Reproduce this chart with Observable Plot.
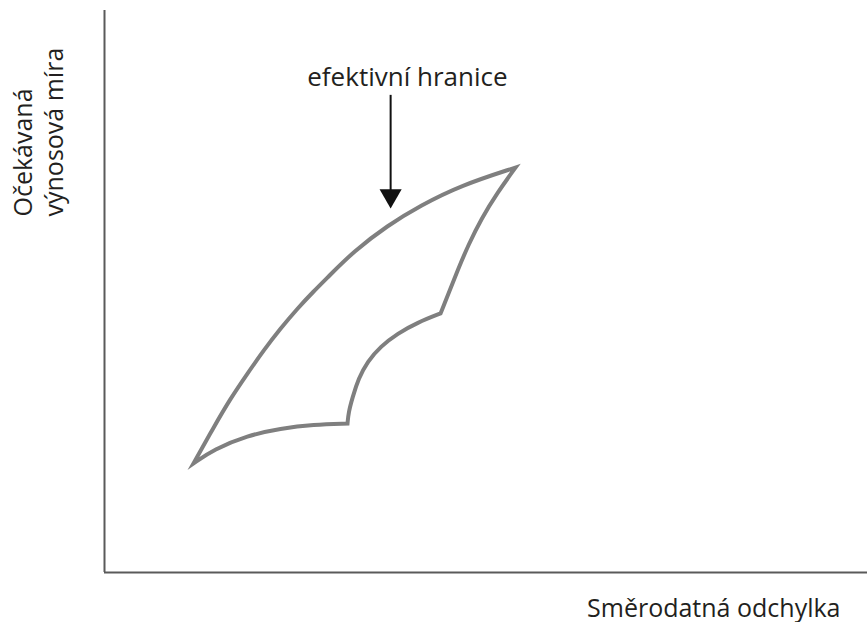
<!DOCTYPE html>
<html>
<head>
<meta charset="utf-8">
<script src="https://cdn.jsdelivr.net/npm/d3@7"></script>
<script src="https://cdn.jsdelivr.net/npm/@observablehq/plot@0.6"></script>
<style>
  html, body { margin: 0; padding: 0; background: #fff; }
  #chart svg { display: block; }
</style>
</head>
<body>
<div id="chart"></div>
<script>
// Abstract units: x = standard deviation (0–10), y = expected return (0–10)
const frontierX = [1.166, 1.429, 1.651, 1.874, 2.084, 2.307, 2.529, 2.739, 2.923, 3.263, 3.709, 4.142, 4.666, 5.387];
const frontierY = [1.940, 2.580, 3.096, 3.541, 3.950, 4.342, 4.698, 5.000, 5.249, 5.712, 6.174, 6.530, 6.886, 7.206];

const rightX = [5.387, 5.151, 4.941, 4.771, 4.627, 4.509, 4.404];
const rightY = [7.206, 6.762, 6.299, 5.836, 5.374, 4.964, 4.609];

const concaveX = [4.404, 4.102, 3.840, 3.617, 3.447, 3.329, 3.250, 3.198, 3.185];
const concaveY = [4.609, 4.448, 4.253, 4.021, 3.754, 3.452, 3.114, 2.847, 2.651];

const bottomX = [3.185, 2.739, 2.307, 1.874, 1.429, 1.166];
const bottomY = [2.651, 2.633, 2.562, 2.438, 2.189, 1.940];

const arrowX = 3.75;
const arrowTopY = 8.49;
const arrowTipY = 6.48;

const annotation = "efektivní hranice";
const yLabel = "Očekávaná\nvýnosová míra";
const xLabel = "Směrodatná odchylka";

const segments = [
  [frontierX, frontierY],
  [rightX, rightY],
  [concaveX, concaveY],
  [bottomX, bottomY]
];
const outline = segments.flatMap(([xs, ys]) => xs.map((x, i) => ({x, y: ys[i]})));

// Smooth B-spline within each segment, sharp corners where segments meet
// (a corner is where the same point appears twice in a row), closed at the end.
function cornerCurve(context) {
  let pts;
  const proxy = {
    moveTo: (x, y) => context.lineTo(x, y),
    lineTo: (x, y) => context.lineTo(x, y),
    bezierCurveTo: (...a) => context.bezierCurveTo(...a),
    closePath: () => {}
  };
  return {
    areaStart() {}, areaEnd() {},
    lineStart() { pts = []; },
    point(x, y) { pts.push([+x, +y]); },
    lineEnd() {
      const groups = [];
      let cur = [pts[0]];
      for (let i = 1; i < pts.length; i++) {
        const p = pts[i], q = pts[i - 1];
        if (Math.abs(p[0] - q[0]) < 1e-6 && Math.abs(p[1] - q[1]) < 1e-6) { groups.push(cur); cur = [p]; }
        else cur.push(p);
      }
      groups.push(cur);
      groups.forEach((g, gi) => {
        const c = d3.curveBasis(gi === 0 ? context : proxy);
        c.lineStart();
        g.forEach(([x, y]) => c.point(x, y));
        c.lineEnd();
      });
      context.closePath();
    }
  };
}

const font = "'Open Sans', 'Noto Sans', sans-serif";
const textColor = "#231f20";

const chart = Plot.plot({
  width: 867,
  height: 622,
  marginLeft: 104,
  marginRight: 0,
  marginTop: 10,
  marginBottom: 50,
  x: {domain: [0, 10], axis: null},
  y: {domain: [0, 10], axis: null},
  style: {fontFamily: font, background: "#fff"},
  marks: [
    Plot.ruleX([0], {stroke: "#5a5a5a", strokeWidth: 2}),
    Plot.ruleY([0], {stroke: "#5a5a5a", strokeWidth: 2}),
    Plot.line(outline, {
      x: "x", y: "y",
      curve: cornerCurve,
      stroke: "#7f7f7f", strokeWidth: 4, fill: "none",
      strokeLinejoin: "miter", strokeMiterlimit: 12
    }),
    Plot.ruleX([arrowX], {y1: arrowTopY, y2: arrowTipY + 0.3, stroke: "#111", strokeWidth: 2}),
    Plot.dot([{x: arrowX, y: arrowTipY}], {
      x: "x", y: "y", symbol: "triangle", r: 8.2, rotate: 180, dy: -12.7,
      fill: "#111", stroke: "none"
    }),
    Plot.text([annotation], {
      x: arrowX + 0.22, y: arrowTopY + 0.16, text: d => d,
      fontSize: 26, fill: textColor, lineAnchor: "bottom", textAnchor: "middle"
    }),
    Plot.text([yLabel], {
      frameAnchor: "top-left", text: d => d, rotate: -90,
      textAnchor: "start", lineAnchor: "middle", lineHeight: 1.25,
      dx: -67, dy: 206, fontSize: 25, fill: textColor
    }),
    Plot.text([xLabel], {
      frameAnchor: "bottom-right", text: d => d,
      textAnchor: "end", lineAnchor: "bottom",
      dx: -27, dy: 44, fontSize: 25, fill: textColor
    })
  ]
});
document.getElementById("chart").append(chart);
</script>
</body>
</html>
